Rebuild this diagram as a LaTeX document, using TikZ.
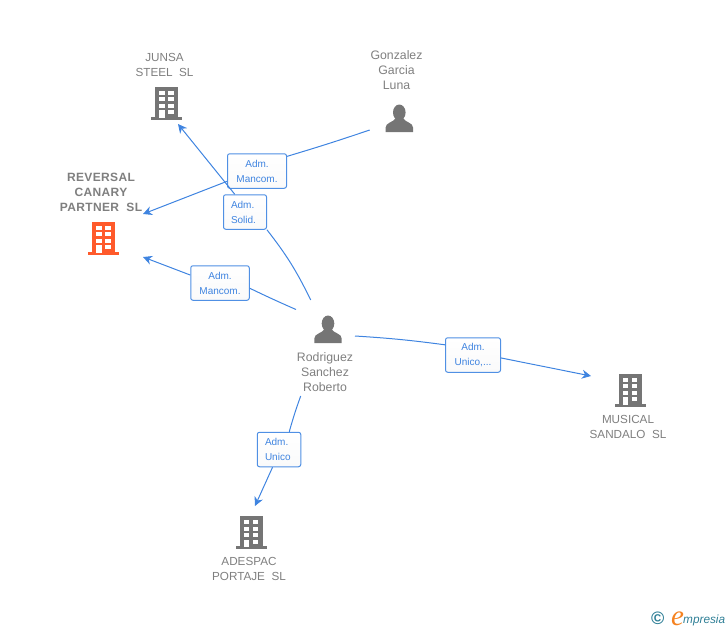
\documentclass[tikz,border=0pt]{standalone}
\usepackage{fontspec}
\setmainfont{Liberation Sans}
\newfontfamily\logofont{Liberation Serif}
\usetikzlibrary{arrows.meta,positioning}
\definecolor{linkblue}{HTML}{3F84E0}
\definecolor{boxblue}{HTML}{5090E4}
\definecolor{textgray}{HTML}{7F7F7F}
\definecolor{icongray}{HTML}{757575}
\definecolor{mainorange}{HTML}{FF5A2B}
\definecolor{logoteal}{HTML}{2F7F96}
\definecolor{logoorange}{HTML}{F58220}
\tikzset{
    building/.pic = {
        \fill (-15.5,-3) rectangle (15.5,0);
        \fill (-11.5,-33) rectangle (11.5,-1);
        \foreach \yy in {-29,-22.5,-16,-9.5} {
            \fill[white] (1.8,\yy) rectangle (7.2,\yy+4.2);
        }
        \foreach \yy in {-29,-22.5,-16} {
            \fill[white] (-7.2,\yy) rectangle (-1.8,\yy+4.2);
        }
        \fill[white] (-7.2,-9.5) rectangle (-1.8,-2);
    },
    person/.pic = {
        \fill (0,-19.5) ellipse (6.3 and 8);
        \fill (-13.7,0) -- (-13.7,-4.5) .. controls (-13.7,-9.5) and (-6,-9.5) .. (-3.5,-14)
            -- (3.5,-14) .. controls (6,-9.5) and (13.7,-9.5) .. (13.7,-4.5) -- (13.7,0) -- cycle;
    },
    namelabel/.style = {align=center, text=textgray, inner sep=0,
        font=\fontsize{11.7}{15}\selectfont},
    personlabel/.style = {namelabel, font=\fontsize{12.3}{15}\selectfont},
    mainlabel/.style = {namelabel, font=\fontsize{12}{15}\selectfont\bfseries\addfontfeatures{LetterSpace=3}},
    linkbox/.style = {draw=boxblue, rounded corners=2.2, line width=1, align=center,
        top color=white, bottom color=black!2, text=linkblue, inner sep=0,
        font=\fontsize{10}{15}\selectfont},
    link/.style = {draw=linkblue, line width=1},
    tip/.style = {-{Stealth[length=9,width=9]}}
}
\begin{document}
\begin{tikzpicture}[x=1pt,y=-1pt]
    \useasboundingbox (0,0) rectangle (728,630);

    % companies and people
    \pic[icongray] at (166.5,119.5) {building};
    \pic[mainorange] at (103.5,254.5) {building};
    \pic[icongray] at (630,406.5) {building};
    \pic[icongray] at (251,549) {building};
    \pic[icongray] at (399.3,132) {person};
    \pic[icongray] at (328,343) {person};

    \node[namelabel] (junsa) at (164.5,64.5) {JUNSA\\STEEL\ \ SL};
    \node[mainlabel] (reversal) at (101,192) {REVERSAL\\CANARY\\PARTNER\ \ SL};
    \node[personlabel] (gonzalez) at (396.5,70) {Gonzalez\\Garcia\\Luna};
    \node[personlabel] (rodriguez) at (325,372) {Rodriguez\\Sanchez\\Roberto};
    \node[namelabel] (musical) at (628,426.5) {MUSICAL\\SANDALO\ \ SL};
    \node[namelabel] (adespac) at (249,568.5) {ADESPAC\\PORTAJE\ \ SL};

    % free ends of the connectors
    \coordinate (gonzalezout) at (369.7,130);
    \coordinate (reversalup) at (143,214);
    \coordinate (rodsolid) at (310.7,300);
    \coordinate (junsain) at (178,124);
    \coordinate (rodmancom) at (296,309.5);
    \coordinate (reversaldown) at (143,257);
    \coordinate (rodunico) at (355,336);
    \coordinate (musicalin) at (591,376);
    \coordinate (roddown) at (300.7,396);
    \coordinate (adespacin) at (255,506);

    % label boxes
    \node[linkbox, minimum width=59, minimum height=34.5] (boxa) at (257,171) {Adm.\\Mancom.};
    \node[linkbox, minimum width=43, minimum height=34.5, text width=28, align=left] (boxb) at (245,212) {Adm.\\Solid.};
    \node[linkbox, minimum width=58.5, minimum height=34.5] (boxc) at (220,283) {Adm.\\Mancom.};
    \node[linkbox, minimum width=55, minimum height=34.5] (boxd) at (473,355) {Adm.\\Unico,...};
    \node[linkbox, minimum width=43.5, minimum height=34.5, text width=28, align=left] (boxe) at (279,449.5) {Adm.\\Unico};

    % connectors
    \draw[link] (gonzalezout) to[bend left=1] (boxa.26);
    \draw[link, tip] (boxa.199) -- (reversalup);
    \draw[link] (rodsolid) to[bend right=6] (boxb.-39);
    \draw[link, tip] (boxb.120) -- (junsain);
    \draw[link] (rodmancom) to[bend left=1] (boxc.-10);
    \draw[link, tip] (boxc.165) -- (reversaldown);
    \draw[link] (rodunico) to[bend left=2] (boxd.160);
    \draw[link, tip] (boxd.-6) -- (musicalin);
    \draw[link] (roddown) to[bend right=2] (boxe.60);
    \draw[link, tip] (boxe.-110) -- (adespacin);

    % logo
    \node[inner sep=0, text=logoteal, font=\bfseries\fontsize{18}{18}\selectfont] (logoc) at (657.7,618.5) {©};
    \node[inner sep=0, text=logoorange, anchor=base, font=\logofont\itshape\fontsize{29}{29}\selectfont] (logoe) at (677.5,625) {e};
    \node[inner sep=0, text=logoteal, anchor=base west, font=\itshape\fontsize{11.8}{12}\selectfont] (logotext) at (683,623) {mpresia};
\end{tikzpicture}
\end{document}
